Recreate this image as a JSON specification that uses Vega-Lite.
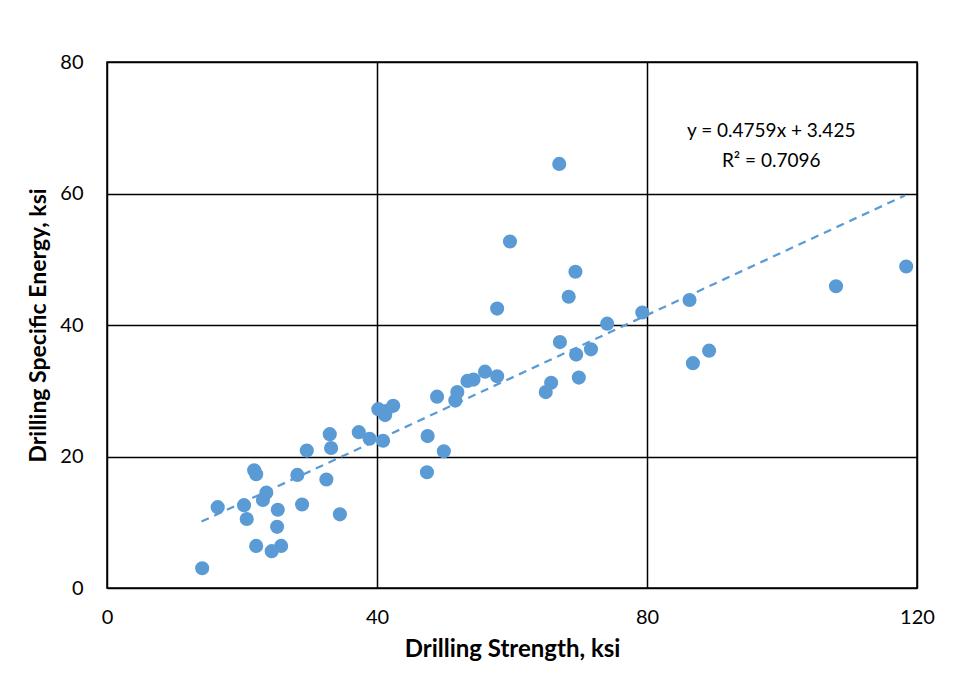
{
  "$schema": "https://vega.github.io/schema/vega-lite/v6.json",
  "width": 810,
  "height": 526,
  "autosize": "none",
  "padding": {"left": 107, "top": 62, "right": 43, "bottom": 86},
  "background": "white",
  "config": {
    "font": "Lato",
    "view": {"stroke": "black", "strokeWidth": 1.5},
    "axis": {
      "grid": true, "gridColor": "black", "gridWidth": 1.5, "gridOpacity": 1,
      "domain": false, "ticks": false, "labelFlush": false, "labelOverlap": false,
      "labelFont": "Lato", "labelFontSize": 20, "labelColor": "#000000",
      "titleFont": "Lato", "titleFontSize": 24, "titleFontWeight": "bold", "titleColor": "#000000"
    }
  },
  "datasets": {
    "pts": [
      {"strength": 14.1, "energy": 3.0},
      {"strength": 16.4, "energy": 12.3},
      {"strength": 20.3, "energy": 12.6},
      {"strength": 20.7, "energy": 10.5},
      {"strength": 21.8, "energy": 17.9},
      {"strength": 22.1, "energy": 17.3},
      {"strength": 22.1, "energy": 6.4},
      {"strength": 23.1, "energy": 13.4},
      {"strength": 23.6, "energy": 14.5},
      {"strength": 24.4, "energy": 5.6},
      {"strength": 25.2, "energy": 9.3},
      {"strength": 25.3, "energy": 11.9},
      {"strength": 25.8, "energy": 6.4},
      {"strength": 28.2, "energy": 17.2},
      {"strength": 28.9, "energy": 12.7},
      {"strength": 29.6, "energy": 20.9},
      {"strength": 32.5, "energy": 16.5},
      {"strength": 33.0, "energy": 23.4},
      {"strength": 33.2, "energy": 21.3},
      {"strength": 34.5, "energy": 11.2},
      {"strength": 37.3, "energy": 23.7},
      {"strength": 38.9, "energy": 22.7},
      {"strength": 40.2, "energy": 27.2},
      {"strength": 41.2, "energy": 26.3},
      {"strength": 41.3, "energy": 26.9},
      {"strength": 40.9, "energy": 22.4},
      {"strength": 42.4, "energy": 27.7},
      {"strength": 47.5, "energy": 23.1},
      {"strength": 47.4, "energy": 17.6},
      {"strength": 48.9, "energy": 29.1},
      {"strength": 49.9, "energy": 20.8},
      {"strength": 51.6, "energy": 28.5},
      {"strength": 51.9, "energy": 29.8},
      {"strength": 53.4, "energy": 31.5},
      {"strength": 54.3, "energy": 31.7},
      {"strength": 56.0, "energy": 32.9},
      {"strength": 57.8, "energy": 32.2},
      {"strength": 57.8, "energy": 42.5},
      {"strength": 59.7, "energy": 52.7},
      {"strength": 65.0, "energy": 29.8},
      {"strength": 65.8, "energy": 31.2},
      {"strength": 67.0, "energy": 64.5},
      {"strength": 67.1, "energy": 37.4},
      {"strength": 68.4, "energy": 44.3},
      {"strength": 69.4, "energy": 48.1},
      {"strength": 69.5, "energy": 35.5},
      {"strength": 69.9, "energy": 32.0},
      {"strength": 71.7, "energy": 36.3},
      {"strength": 74.1, "energy": 40.2},
      {"strength": 79.3, "energy": 41.9},
      {"strength": 86.3, "energy": 43.8},
      {"strength": 86.8, "energy": 34.2},
      {"strength": 89.2, "energy": 36.1},
      {"strength": 108.0, "energy": 45.9},
      {"strength": 118.4, "energy": 48.9}
    ],
    "trend": [
      {"strength": 14.0, "energy": 10.1},
      {"strength": 118.2, "energy": 59.7}
    ],
    "note": [
      {"strength": 98.4, "energy": 69.5, "label": "y = 0.4759x + 3.425"},
      {"strength": 98.4, "energy": 65.0, "label": "R² = 0.7096"}
    ]
  },
  "layer": [
    {
      "data": {"name": "trend"},
      "mark": {"type": "line", "color": "#5B9BD5", "strokeWidth": 2.25, "strokeDash": [8, 6]},
      "encoding": {
        "x": {"field": "strength", "type": "quantitative", "scale": {"domain": [0, 120]},
              "axis": {"values": [0, 40, 80, 120], "title": "Drilling Strength, ksi", "labelPadding": 19, "titlePadding": 10}},
        "y": {"field": "energy", "type": "quantitative", "scale": {"domain": [0, 80]},
              "axis": {"values": [0, 20, 40, 60, 80], "title": "Drilling Specific Energy, ksi", "titleFontSize": 23, "labelPadding": 24, "titlePadding": 9}}
      }
    },
    {
      "data": {"name": "pts"},
      "mark": {"type": "point", "filled": true, "color": "#5B9BD5", "opacity": 1, "size": 200, "shape": "circle"},
      "encoding": {
        "x": {"field": "strength", "type": "quantitative"},
        "y": {"field": "energy", "type": "quantitative"}
      }
    },
    {
      "data": {"name": "note"},
      "mark": {"type": "text", "font": "Lato", "fontSize": 19, "color": "#000000", "align": "center", "baseline": "middle"},
      "encoding": {
        "x": {"field": "strength", "type": "quantitative"},
        "y": {"field": "energy", "type": "quantitative"},
        "text": {"field": "label"}
      }
    }
  ]
}
